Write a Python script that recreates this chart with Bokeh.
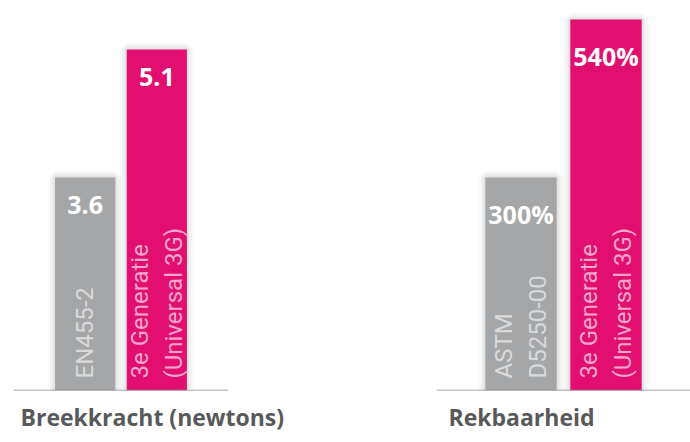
import math
from bokeh.plotting import figure
from bokeh.models import FactorRange, Range1d, Span, Title
from bokeh.layouts import row
from bokeh.embed import file_html
from bokeh.resources import INLINE
from bokeh.core.properties import value

# ---- data ----
left_title = "Breekkracht (newtons)"
left_categories = ["EN455-2", "3e Generatie\n(Universal 3G)"]
left_values = [3.6, 5.1]
left_value_labels = ["3.6", "5.1"]

right_title = "Rekbaarheid"
right_categories = ["ASTM\nD5250-00", "3e Generatie\n(Universal 3G)"]
right_values = [300, 540]
right_value_labels = ["300%", "540%"]

# axis extents (the original bars do not start at zero)
left_axis = (1.104, 5.674)
right_axis = (-23.5, 568.9)

bar_colors = ["#a5a6a8", "#e20f70"]
label_colors = ["#d9dadb", "#f6a6ca"]
title_color = "#58595b"
base_color = "#8a8a8a"

H = 442


def panel(title, cats, vals, labels, axis, pad, width, bl, br, toff):
    p = figure(
        x_range=FactorRange(factors=cats, range_padding=pad, range_padding_units="absolute"),
        y_range=Range1d(axis[0], axis[1]),
        width=width, height=H, output_backend="svg", toolbar_location=None,
        min_border_left=bl, min_border_right=br, min_border_top=0, min_border_bottom=52,
    )
    p.outline_line_color = None
    p.grid.visible = False
    p.yaxis.visible = False
    p.xaxis.visible = False
    p.background_fill_color = "white"
    p.border_fill_color = "white"

    base = axis[0]
    # soft shadow
    for lw, la in [(14, 0.025), (9, 0.035), (4, 0.05)]:
        p.vbar(x=cats, top=vals, bottom=base, width=0.84, fill_alpha=0,
               line_color="black", line_alpha=la, line_width=lw)
    p.vbar(x=cats, top=vals, bottom=base, width=0.84, fill_color=bar_colors,
           line_color=None)
    p.add_layout(Span(location=base, dimension="width", line_color=base_color,
                      line_width=1.5))
    p.text(x=cats, y=vals, text=labels, text_align="center", text_baseline="top",
           y_offset=19, text_color="white", text_font=value("Open Sans"),
           text_font_style="bold", text_font_size="25px")
    p.text(x=cats, y=[base] * len(cats), text=cats, angle=math.pi / 2,
           text_align="left", text_baseline="middle", y_offset=-12,
           text_color=label_colors, text_font=value("Roboto"),
           text_font_size="24px", text_line_height=1.2)
    p.add_layout(Title(text=title, align="left", offset=toff, text_font="Open Sans",
                       text_font_style="bold", text_font_size="23px",
                       text_color=title_color, standoff=17),
                 "below")
    return p


p1 = panel(left_title, left_categories, left_values, left_value_labels, left_axis,
           0.5, 345, 13, 117, 7)
p2 = panel(right_title, right_categories, right_values, right_value_labels, right_axis,
           0.494, 345, 91, 0, 12)

layout = row(p1, p2)
open("out.html", "w").write(file_html(layout, INLINE))
